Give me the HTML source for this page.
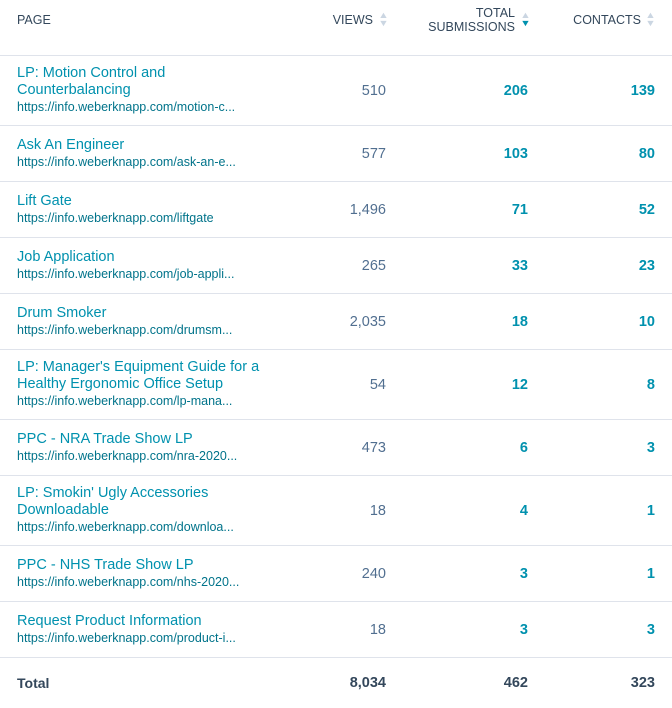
<!DOCTYPE html>
<html><head><meta charset="utf-8"><style>
body{margin:0;width:672px;height:702px;background:#fff;font-family:"Liberation Sans",sans-serif;overflow:hidden;position:relative}
.h{position:absolute;top:0;left:0;width:672px;height:56px;border-bottom:1px solid #dfe3eb;box-sizing:border-box;font-size:12.5px;color:#33475b}
.h div{position:absolute}
.arr{position:absolute;font-size:9px;line-height:8px;color:#cbd6e2;transform:scaleX(1.2)}
.r{position:absolute;left:0;width:672px;border-bottom:1px solid #dfe3eb;box-sizing:border-box;display:flex;align-items:center}
.p{position:absolute;left:17px;width:270px}
.t{font-size:14.5px;line-height:17px;color:#0091ae}
.u{font-size:12.5px;line-height:17px;color:#00738a}
.n{position:absolute;text-align:right;font-size:14.5px}
.v{right:286px;color:#516f90}
.s{right:144px;color:#0091ae;font-weight:bold}
.c{right:17px;color:#0091ae;font-weight:bold}
</style></head><body>
<div class="h">
<div style="left:17px;top:13px">PAGE</div>
<div style="right:299px;top:13px">VIEWS</div>
<div class="arr" style="left:379px;top:11px">▲<br>▼</div>
<div style="right:157px;top:6px;text-align:right;line-height:14px">TOTAL<br>SUBMISSIONS</div>
<div class="arr" style="left:521px;top:11px">▲<br><span style="color:#0091ae">▼</span></div>
<div style="right:31px;top:13px">CONTACTS</div>
<div class="arr" style="left:646px;top:11px">▲<br>▼</div>
</div>

<div class="r" style="top:56px;height:70px"><div class="p"><div class="t">LP: Motion Control and<br>Counterbalancing</div><div class="u">https://info.weberknapp.com/motion-c...</div></div><div class="n v">510</div><div class="n s">206</div><div class="n c">139</div></div>
<div class="r" style="top:126px;height:56px"><div class="p"><div class="t">Ask An Engineer</div><div class="u">https://info.weberknapp.com/ask-an-e...</div></div><div class="n v">577</div><div class="n s">103</div><div class="n c">80</div></div>
<div class="r" style="top:182px;height:56px"><div class="p"><div class="t">Lift Gate</div><div class="u">https://info.weberknapp.com/liftgate</div></div><div class="n v">1,496</div><div class="n s">71</div><div class="n c">52</div></div>
<div class="r" style="top:238px;height:56px"><div class="p"><div class="t">Job Application</div><div class="u">https://info.weberknapp.com/job-appli...</div></div><div class="n v">265</div><div class="n s">33</div><div class="n c">23</div></div>
<div class="r" style="top:294px;height:56px"><div class="p"><div class="t">Drum Smoker</div><div class="u">https://info.weberknapp.com/drumsm...</div></div><div class="n v">2,035</div><div class="n s">18</div><div class="n c">10</div></div>
<div class="r" style="top:350px;height:70px"><div class="p"><div class="t">LP: Manager's Equipment Guide for a<br>Healthy Ergonomic Office Setup</div><div class="u">https://info.weberknapp.com/lp-mana...</div></div><div class="n v">54</div><div class="n s">12</div><div class="n c">8</div></div>
<div class="r" style="top:420px;height:56px"><div class="p"><div class="t">PPC - NRA Trade Show LP</div><div class="u">https://info.weberknapp.com/nra-2020...</div></div><div class="n v">473</div><div class="n s">6</div><div class="n c">3</div></div>
<div class="r" style="top:476px;height:70px"><div class="p"><div class="t">LP: Smokin' Ugly Accessories<br>Downloadable</div><div class="u">https://info.weberknapp.com/downloa...</div></div><div class="n v">18</div><div class="n s">4</div><div class="n c">1</div></div>
<div class="r" style="top:546px;height:56px"><div class="p"><div class="t">PPC - NHS Trade Show LP</div><div class="u">https://info.weberknapp.com/nhs-2020...</div></div><div class="n v">240</div><div class="n s">3</div><div class="n c">1</div></div>
<div class="r" style="top:602px;height:56px"><div class="p"><div class="t">Request Product Information</div><div class="u">https://info.weberknapp.com/product-i...</div></div><div class="n v">18</div><div class="n s">3</div><div class="n c">3</div></div>
<div class="r" style="top:658px;height:50px;border:none"><div class="p" style="font-size:14px;color:#33475b;font-weight:bold">Total</div><div class="n v" style="color:#33475b;font-weight:bold">8,034</div><div class="n s" style="color:#33475b">462</div><div class="n c" style="color:#33475b">323</div></div>
</body></html>
